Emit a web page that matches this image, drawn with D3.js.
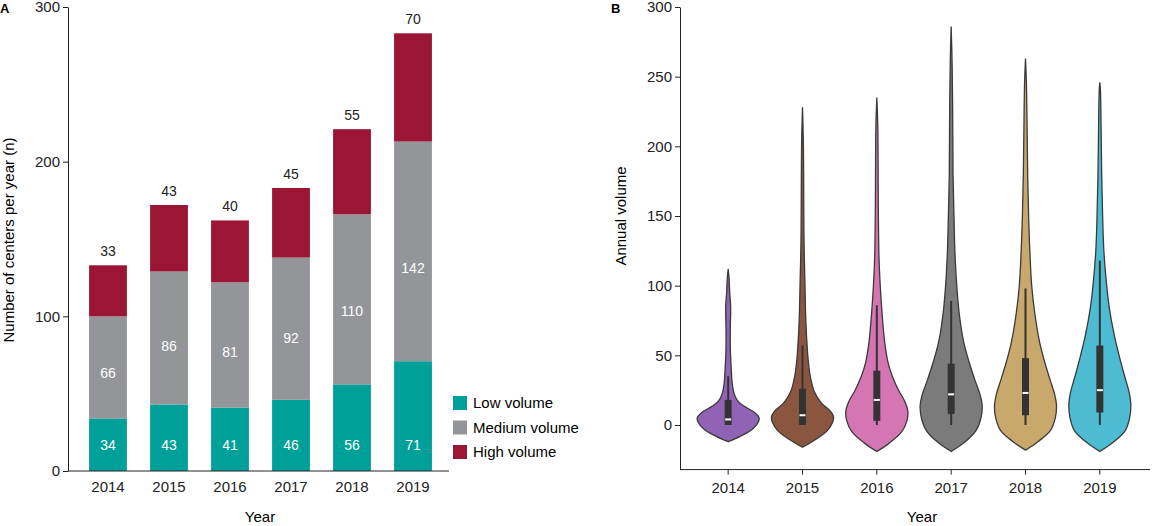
<!DOCTYPE html>
<html lang="en">
<head>
<script src="https://d3js.org/d3.v7.min.js"></script>
<style>
  body { margin: 0; background: #fff; font-family: "Liberation Sans", Arial, sans-serif; }
  .axis text { font-size: 15px; fill: #222; }
  .axis path, .axis line { stroke: #222; }
</style>
</head>
<body>
<svg id="chart" width="1165" height="526"></svg>
<script>
// panel A data
var years = ["2014", "2015", "2016", "2017", "2018", "2019"];
var lowVol = [34, 43, 41, 46, 56, 71];
var medVol = [66, 86, 81, 92, 110, 142];
var highVol = [33, 43, 40, 45, 55, 70];
var seriesNames = ["Low volume", "Medium volume", "High volume"];
var seriesColors = ["#00a09a", "#939598", "#9b1535"];

// panel B data: density outline per year as [value, relative width]
var violinColors = ["#9063b5", "#8a5640", "#d675b4", "#7b7b7b", "#c9a86b", "#4dbbd2"];
var profiles = [
  [[-12,0],[-8,.4],[-3,.78],[2,.97],[5,1],[9,.85],[13,.55],[17,.32],[22,.2],[30,.13],[40,.1],[55,.07],[70,.07],[85,.08],[95,.05],[105,.03],[112,0]],
  [[-16,0],[-10,.45],[-4,.8],[2,.97],[6,1],[10,.9],[16,.6],[24,.38],[34,.26],[45,.19],[60,.14],[80,.1],[100,.08],[130,.05],[160,.04],[200,.03],[228,0]],
  [[-19,0],[-13,.4],[-5,.8],[3,.97],[10,1],[17,.9],[25,.7],[35,.5],[45,.36],[60,.25],[80,.17],[100,.11],[120,.07],[150,.05],[190,.04],[215,.03],[235,0]],
  [[-19,0],[-13,.4],[-4,.8],[5,.96],[14,1],[22,.93],[32,.77],[45,.58],[60,.4],[80,.26],[100,.18],[125,.12],[150,.09],[180,.06],[220,.05],[260,.03],[286,0]],
  [[-18,0],[-12,.4],[-4,.8],[5,.96],[14,1],[22,.94],[32,.8],[45,.62],[60,.45],[80,.3],[100,.2],[125,.14],[150,.1],[180,.07],[215,.05],[245,.03],[263,0]],
  [[-19,0],[-13,.4],[-4,.82],[5,.96],[15,1],[23,.95],[35,.8],[50,.62],[65,.46],[85,.3],[105,.2],[125,.13],[150,.09],[180,.06],[215,.04],[240,.02],[246,0]]
];
var boxMin = [0, 0, 0, 0, 0, 0];
var boxQ1 = [0, 0, 3, 8, 7, 9];
var boxMed = [4, 7, 18, 22, 23, 25];
var boxQ3 = [18, 26, 39, 44, 48, 57];
var boxMax = [35, 57, 86, 89, 98, 118];

var svg = d3.select("#chart");

// ---------- Panel A ----------
var xA = d3.scaleBand().domain(years).range([72, 449]).paddingInner(0.38).paddingOuter(0.28);
var yA = d3.scaleLinear().domain([0, 300]).range([471, 7]);

var stackData = years.map(function(y, i) { return { year: y, low: lowVol[i], med: medVol[i], high: highVol[i] }; });
var stack = d3.stack().keys(["low", "med", "high"])(stackData);

var gA = svg.append("g");
stack.forEach(function(layer, li) {
  gA.selectAll(".bar" + li).data(layer).enter().append("rect")
    .attr("x", function(d) { return xA(d.data.year); })
    .attr("width", xA.bandwidth())
    .attr("y", function(d) { return yA(d[1]); })
    .attr("height", function(d) { return yA(d[0]) - yA(d[1]); })
    .attr("fill", seriesColors[li]);
});
// labels in bars
gA.selectAll(".lowLab").data(stackData).enter().append("text")
  .attr("x", function(d) { return xA(d.year) + xA.bandwidth() / 2; })
  .attr("y", yA(0) - 21).attr("text-anchor", "middle")
  .attr("font-size", 14).attr("fill", "#fff").text(function(d) { return d.low; });
gA.selectAll(".medLab").data(stackData).enter().append("text")
  .attr("x", function(d) { return xA(d.year) + xA.bandwidth() / 2; })
  .attr("y", function(d) { return yA(d.low + d.med * 0.4) ; })
  .attr("text-anchor", "middle").attr("font-size", 14).attr("fill", "#fff")
  .text(function(d) { return d.med; });
gA.selectAll(".highLab").data(stackData).enter().append("text")
  .attr("x", function(d) { return xA(d.year) + xA.bandwidth() / 2; })
  .attr("y", function(d) { return yA(d.low + d.med + d.high) - 9; })
  .attr("text-anchor", "middle").attr("font-size", 14).attr("fill", "#222")
  .text(function(d) { return d.high; });

gA.append("g").attr("class", "axis").attr("transform", "translate(68,0)")
  .call(d3.axisLeft(yA).tickValues([0, 100, 200, 300]).tickSize(5).tickSizeOuter(0));
gA.append("line").attr("x1", 68).attr("x2", 449).attr("y1", 471).attr("y2", 471).attr("stroke", "#222");
gA.append("g").attr("class", "axis").attr("transform", "translate(0,471)")
  .call(d3.axisBottom(xA).tickSize(0).tickPadding(10)).select(".domain").remove();
gA.append("text").attr("x", 260).attr("y", 522).attr("text-anchor", "middle").attr("font-size", 15).text("Year");
gA.append("text").attr("transform", "translate(14,240) rotate(-90)").attr("text-anchor", "middle")
  .attr("font-size", 15).text("Number of centers per year (n)");
gA.append("text").attr("x", 0).attr("y", 13).attr("font-size", 13).attr("font-weight", "bold").text("A");

var leg = gA.selectAll(".leg").data(seriesNames).enter().append("g")
  .attr("transform", function(d, i) { return "translate(453," + (396 + i * 24.5) + ")"; });
leg.append("rect").attr("width", 14).attr("height", 14).attr("fill", function(d, i) { return seriesColors[i]; });
leg.append("text").attr("x", 20).attr("y", 12).attr("font-size", 15).text(function(d) { return d; });

// ---------- Panel B ----------
var xB = d3.scaleBand().domain(years).range([691, 1137]).padding(0);
var yB = d3.scaleLinear().domain([0, 300]).range([425, 7]);
var halfW = 31;
var gB = svg.append("g");

years.forEach(function(yr, i) {
  var cx = xB(yr) + xB.bandwidth() / 2;
  var area = d3.area()
    .y(function(d) { return yB(d[0]); })
    .x0(function(d) { return cx - d[1] * halfW; })
    .x1(function(d) { return cx + d[1] * halfW; })
    .curve(d3.curveCatmullRom);
  gB.append("path").datum(profiles[i]).attr("d", area)
    .attr("fill", violinColors[i]).attr("stroke", "#3a3a3a").attr("stroke-width", 1.3);
  gB.append("line").attr("x1", cx).attr("x2", cx).attr("y1", yB(boxMin[i])).attr("y2", yB(boxMax[i]))
    .attr("stroke", "#333").attr("stroke-width", 2);
  gB.append("rect").attr("x", cx - 3.5).attr("width", 7)
    .attr("y", yB(boxQ3[i])).attr("height", yB(boxQ1[i]) - yB(boxQ3[i])).attr("fill", "#333");
  gB.append("line").attr("x1", cx - 3).attr("x2", cx + 3).attr("y1", yB(boxMed[i])).attr("y2", yB(boxMed[i]))
    .attr("stroke", "#fff").attr("stroke-width", 2);
});

var yAxisB = d3.scaleLinear().domain([-32, 300]).range([yB(-32), 7]);
gB.append("g").attr("class", "axis").attr("transform", "translate(680,0)")
  .call(d3.axisLeft(yAxisB).tickValues([0, 50, 100, 150, 200, 250, 300]).tickSize(5).tickSizeOuter(0));
gB.append("line").attr("x1", 680).attr("x2", 1150).attr("y1", yB(-32)).attr("y2", yB(-32)).attr("stroke", "#222");
gB.append("g").attr("class", "axis").attr("transform", "translate(0," + yB(-32) + ")")
  .call(d3.axisBottom(xB).tickSize(5).tickPadding(8)).select(".domain").remove();
gB.append("text").attr("x", 922).attr("y", 522).attr("text-anchor", "middle").attr("font-size", 15).text("Year");
gB.append("text").attr("transform", "translate(626,216) rotate(-90)").attr("text-anchor", "middle")
  .attr("font-size", 15).text("Annual volume");
gB.append("text").attr("x", 611).attr("y", 13).attr("font-size", 13).attr("font-weight", "bold").text("B");
</script>
</body>
</html>
